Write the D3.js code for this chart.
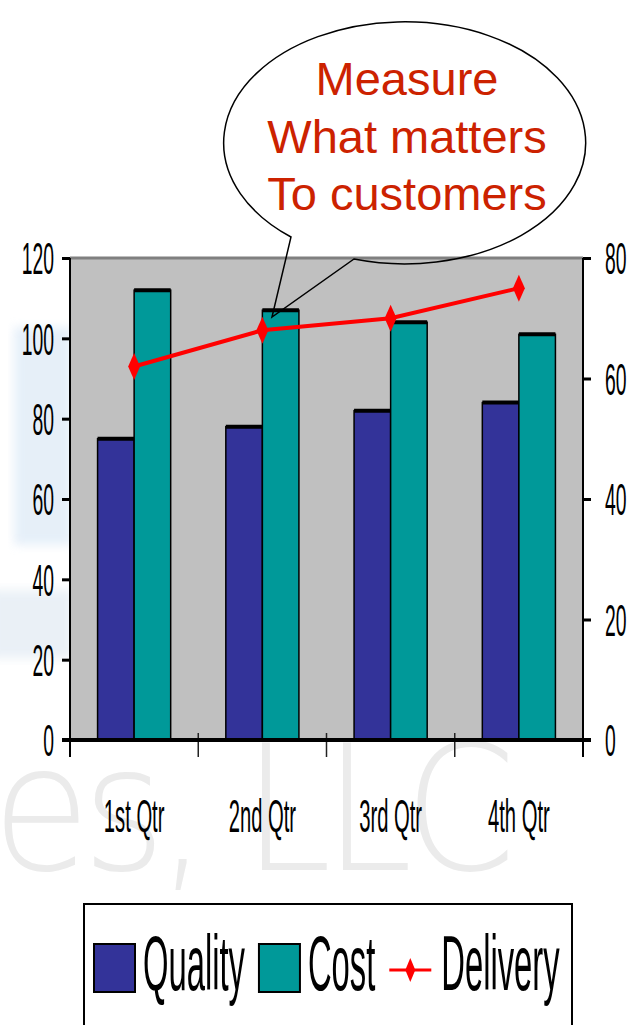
<!DOCTYPE html>
<html>
<head>
<meta charset="utf-8">
<script src="https://cdn.jsdelivr.net/npm/d3@7"></script>
<style>
  body { margin: 0; background: #fff; }
  text { font-family: "Liberation Sans", Arial, sans-serif; }
</style>
</head>
<body>
<div id="chart"></div>
<script>
// data
var categories = ["1st Qtr", "2nd Qtr", "3rd Qtr", "4th Qtr"];
var quality = [75, 78, 82, 84];
var cost = [112, 107, 104, 101];
var delivery = [62, 68, 70, 75];
var leftTicks = [0, 20, 40, 60, 80, 100, 120];
var rightTicks = [0, 20, 40, 60, 80];
var seriesNames = ["Quality", "Cost", "Delivery"];
var calloutLines = ["Measure", "What matters", "To customers"];

var colors = {Quality: "#333399", Cost: "#009999", Delivery: "#ff0000"};

var W = 636, H = 1025;
var plot = {left: 70, right: 583, top: 258, bottom: 740};
var narrow = 0.43;

var svg = d3.select("#chart").append("svg")
    .attr("width", W)
    .attr("height", H);

// faint watermark behind the chart
var defs = svg.append("defs");
defs.append("filter").attr("id", "blur")
    .append("feGaussianBlur").attr("stdDeviation", 5);

svg.append("rect").attr("x", 14).attr("y", 327).attr("width", 58).attr("height", 218)
    .attr("fill", "#d2e3f4").attr("opacity", 0.55).attr("filter", "url(#blur)");
svg.append("rect").attr("x", -10).attr("y", 590).attr("width", 82).attr("height", 68)
    .attr("fill", "#d9e4f0").attr("opacity", 0.55).attr("filter", "url(#blur)");
svg.append("text")
    .attr("transform", "translate(-8,870) scale(0.92,1)")
    .style("font-family", "DejaVu Sans")
    .style("font-weight", 200)
    .style("font-size", "174px")
    .style("letter-spacing", "-9px")
    .attr("fill", "#ebebeb")
    .text("es, LLC");

// scales
var x0 = d3.scaleBand().domain(categories)
    .range([plot.left, plot.right])
    .paddingInner(0.43).paddingOuter(0.215);
var x1 = d3.scaleBand().domain(["Quality", "Cost"]).range([0, x0.bandwidth()]);
var yL = d3.scaleLinear().domain([0, 120]).range([plot.bottom, plot.top]);
var yR = d3.scaleLinear().domain([0, 80]).range([plot.bottom, plot.top]);

// plot area
svg.append("rect")
    .attr("x", plot.left).attr("y", plot.top)
    .attr("width", plot.right - plot.left).attr("height", plot.bottom - plot.top)
    .attr("fill", "#c0c0c0");
svg.append("line")
    .attr("x1", plot.left).attr("x2", plot.right)
    .attr("y1", plot.top).attr("y2", plot.top)
    .attr("stroke", "#808080").attr("stroke-width", 3);

// bars
var groups = svg.selectAll(".cat")
    .data(categories)
    .enter().append("g")
    .attr("class", "cat")
    .attr("transform", function(d) { return "translate(" + x0(d) + ",0)"; });

var barData = function(d, i) {
    return [{key: "Quality", value: quality[i]}, {key: "Cost", value: cost[i]}];
};

groups.selectAll("rect")
    .data(barData)
    .enter().append("rect")
    .attr("x", function(d) { return x1(d.key); })
    .attr("y", function(d) { return yL(d.value); })
    .attr("width", x1.bandwidth())
    .attr("height", function(d) { return plot.bottom - yL(d.value); })
    .attr("fill", function(d) { return colors[d.key]; })
    .attr("stroke", "#000")
    .attr("stroke-width", 1.5);

groups.selectAll("line.top")
    .data(barData)
    .enter().append("line")
    .attr("class", "top")
    .attr("x1", function(d) { return x1(d.key); })
    .attr("x2", function(d) { return x1(d.key) + x1.bandwidth(); })
    .attr("y1", function(d) { return yL(d.value); })
    .attr("y2", function(d) { return yL(d.value); })
    .attr("stroke", "#000")
    .attr("stroke-width", 4);

// axes
var gl = svg.append("g")
    .attr("transform", "translate(" + plot.left + ",0)")
    .call(d3.axisLeft(yL).tickValues(leftTicks).tickSize(8));
var gr = svg.append("g")
    .attr("transform", "translate(" + plot.right + ",0)")
    .call(d3.axisRight(yR).tickValues(rightTicks).tickSize(8));

[gl, gr].forEach(function(g) {
    g.select(".domain").remove();
    g.selectAll(".tick line").attr("stroke", "#000").attr("stroke-width", 3);
    g.selectAll(".tick text")
        .attr("x", null)
        .attr("dy", "0.35em")
        .attr("fill", "#000")
        .style("font-size", "45px");
});
gl.selectAll(".tick text").attr("transform", "translate(-16,0) scale(" + narrow + ",1)");
gr.selectAll(".tick text").attr("transform", "translate(22,0) scale(" + narrow + ",1)");

// axis lines
svg.append("line")
    .attr("x1", plot.left).attr("x2", plot.left)
    .attr("y1", plot.top).attr("y2", plot.bottom + 17)
    .attr("stroke", "#000").attr("stroke-width", 2);
svg.append("line")
    .attr("x1", plot.right).attr("x2", plot.right)
    .attr("y1", plot.top).attr("y2", plot.bottom + 17)
    .attr("stroke", "#000").attr("stroke-width", 2);

// category boundary ticks
var boundaries = categories.map(function(c) {
    return x0(c) - (x0.step() - x0.bandwidth()) / 2;
}).slice(1);
svg.selectAll(".ctick")
    .data(boundaries)
    .enter().append("line")
    .attr("class", "ctick")
    .attr("x1", function(d) { return d; })
    .attr("x2", function(d) { return d; })
    .attr("y1", plot.bottom - 7)
    .attr("y2", plot.bottom + 17)
    .attr("stroke", "#222")
    .attr("stroke-width", 1.5);

svg.append("line")
    .attr("x1", plot.left - 8).attr("x2", plot.right + 8)
    .attr("y1", plot.bottom).attr("y2", plot.bottom)
    .attr("stroke", "#000").attr("stroke-width", 4);

// category labels
svg.selectAll(".clabel")
    .data(categories)
    .enter().append("text")
    .attr("class", "clabel")
    .attr("text-anchor", "middle")
    .attr("transform", function(d) {
        return "translate(" + (x0(d) + x0.bandwidth() / 2) + ",832) scale(0.44,1)";
    })
    .style("font-size", "46px")
    .attr("fill", "#000")
    .text(function(d) { return d; });

// delivery line
var cx = function(d, i) { return x0(categories[i]) + x0.bandwidth() / 2; };
var line = d3.line()
    .x(cx)
    .y(function(d) { return yR(d); });

svg.append("path")
    .datum(delivery)
    .attr("d", line)
    .attr("fill", "none")
    .attr("stroke", colors.Delivery)
    .attr("stroke-width", 4);

function diamond(w, h) {
    return "M0," + (-h / 2) + "L" + (w / 2) + ",0L0," + (h / 2) + "L" + (-w / 2) + ",0Z";
}

svg.selectAll(".marker")
    .data(delivery)
    .enter().append("path")
    .attr("class", "marker")
    .attr("d", diamond(12, 27))
    .attr("transform", function(d, i) { return "translate(" + cx(d, i) + "," + yR(d) + ")"; })
    .attr("fill", colors.Delivery);

// callout
svg.append("path")
    .attr("d", "M354,259 A181,121 0 1 0 291,237 L272,317 Z")
    .attr("fill", "none")
    .attr("stroke", "#000")
    .attr("stroke-width", 1.5);

svg.selectAll(".callout")
    .data(calloutLines)
    .enter().append("text")
    .attr("class", "callout")
    .attr("x", 407)
    .attr("y", function(d, i) { return 95 + i * 57.5; })
    .attr("text-anchor", "middle")
    .style("font-size", "47px")
    .attr("fill", "#cc2200")
    .text(function(d) { return d; });

// legend
svg.append("rect")
    .attr("x", 84).attr("y", 904)
    .attr("width", 488).attr("height", 140)
    .attr("fill", "#fff")
    .attr("stroke", "#000")
    .attr("stroke-width", 2);

var lx = 94;
seriesNames.forEach(function(name) {
    var g = svg.append("g");
    if (name === "Delivery") {
        g.append("line")
            .attr("x1", lx).attr("x2", lx + 42)
            .attr("y1", 970).attr("y2", 970)
            .attr("stroke", colors.Delivery).attr("stroke-width", 3);
        g.append("path")
            .attr("d", diamond(10, 24))
            .attr("transform", "translate(" + (lx + 21) + ",970)")
            .attr("fill", colors.Delivery);
        lx += 52;
    } else {
        g.append("rect")
            .attr("x", lx).attr("y", 944)
            .attr("width", 41).attr("height", 48)
            .attr("fill", colors[name])
            .attr("stroke", "#000").attr("stroke-width", 2);
        lx += 49;
    }
    var t = g.append("text")
        .attr("transform", "translate(" + lx + ",990) scale(0.42,1)")
        .style("font-size", "78px")
        .attr("fill", "#000")
        .text(name);
    lx += t.node().getComputedTextLength() * 0.42 + 14;
});
</script>
</body>
</html>
